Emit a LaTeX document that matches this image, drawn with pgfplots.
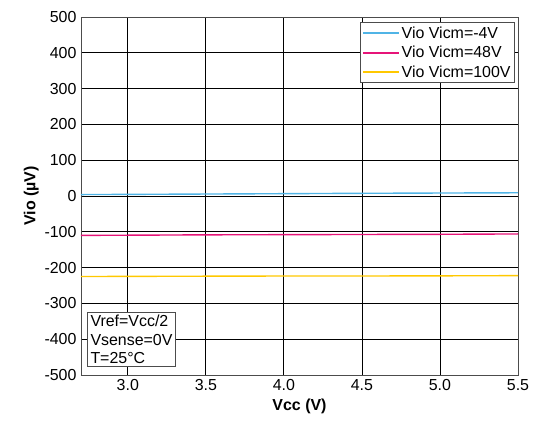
\documentclass[border=0pt]{standalone}
\usepackage{fontspec}
\setmainfont{Liberation Sans}
\usepackage{pgfplots}
\pgfplotsset{compat=1.18}
\definecolor{cblue}{RGB}{80,180,230}
\definecolor{cpink}{RGB}{230,20,120}
\definecolor{cyel}{RGB}{255,200,0}
\begin{document}
\begin{tikzpicture}
\begin{axis}[
  scale only axis, width=437bp, height=358bp,
  xmin=2.7, xmax=5.5, ymin=-500, ymax=500,
  xtick={3.0,3.5,4.0,4.5,5.0,5.5},
  ytick={-500,-400,...,500},
  xticklabel style={yshift=-1bp, /pgf/number format/fixed, /pgf/number format/fixed zerofill, /pgf/number format/precision=1},
  /pgf/number format/assume math mode=true,
  tick label style={font=\fontsize{16}{18}\selectfont},
  yticklabel style={xshift=-1bp},
  grid=major, major grid style={black, line width=0.8pt},
  tick style={draw=none},
  axis line style={black!70, line width=0.8pt},
  xlabel={\textbf{Vcc (V)}}, ylabel={\textbf{Vio (µV)}},
  label style={font=\fontsize{16}{18}\selectfont},
  xlabel style={yshift=-1bp},
  ylabel style={yshift=-1bp},
  legend style={at={(0.993,0.985)}, anchor=north east, font=\fontsize{16}{18}\selectfont, draw=black!70, fill=white, line width=0.8pt, row sep=2.5pt, inner sep=2pt},
  legend cell align=left,
]
\addplot[draw=cblue, line width=1.4pt, legend image code/.code={\path[draw=cblue, line width=1.8pt] (0cm,0cm) -- (1.25cm,0cm);}] coordinates {(2.7,4) (3.0,4.5) (3.5,5.5) (4.0,6.5) (4.5,7.5) (5.0,8.3) (5.5,9)};
\addlegendentry{Vio Vicm=-4V}
\addplot[draw=cpink, line width=1.4pt, legend image code/.code={\path[draw=cpink, line width=1.8pt] (0cm,0cm) -- (1.25cm,0cm);}] coordinates {(2.7,-110) (3.0,-109.5) (3.5,-108.5) (4.0,-108) (4.5,-107.5) (5.0,-107) (5.5,-106)};
\addlegendentry{Vio Vicm=48V}
\addplot[draw=cyel, line width=1.4pt, legend image code/.code={\path[draw=cyel, line width=1.8pt] (0cm,0cm) -- (1.25cm,0cm);}] coordinates {(2.7,-225) (3.0,-224.5) (3.5,-224) (4.0,-223.5) (4.5,-223.5) (5.0,-223) (5.5,-222.5)};
\addlegendentry{Vio Vicm=100V}
\node[draw=black!70, line width=0.8pt, fill=white, anchor=south west, align=left, font=\fontsize{16}{18.5}\selectfont, inner sep=3pt] at (rel axis cs:0.014,0.022) {Vref=Vcc/2\\Vsense=0V\\T=25°C};
\end{axis}
\pgfresetboundingbox
\path (current axis.south west) ++(-81bp,-46bp) rectangle ([shift={(23bp,17bp)}]current axis.north east);
\end{tikzpicture}
\end{document}
